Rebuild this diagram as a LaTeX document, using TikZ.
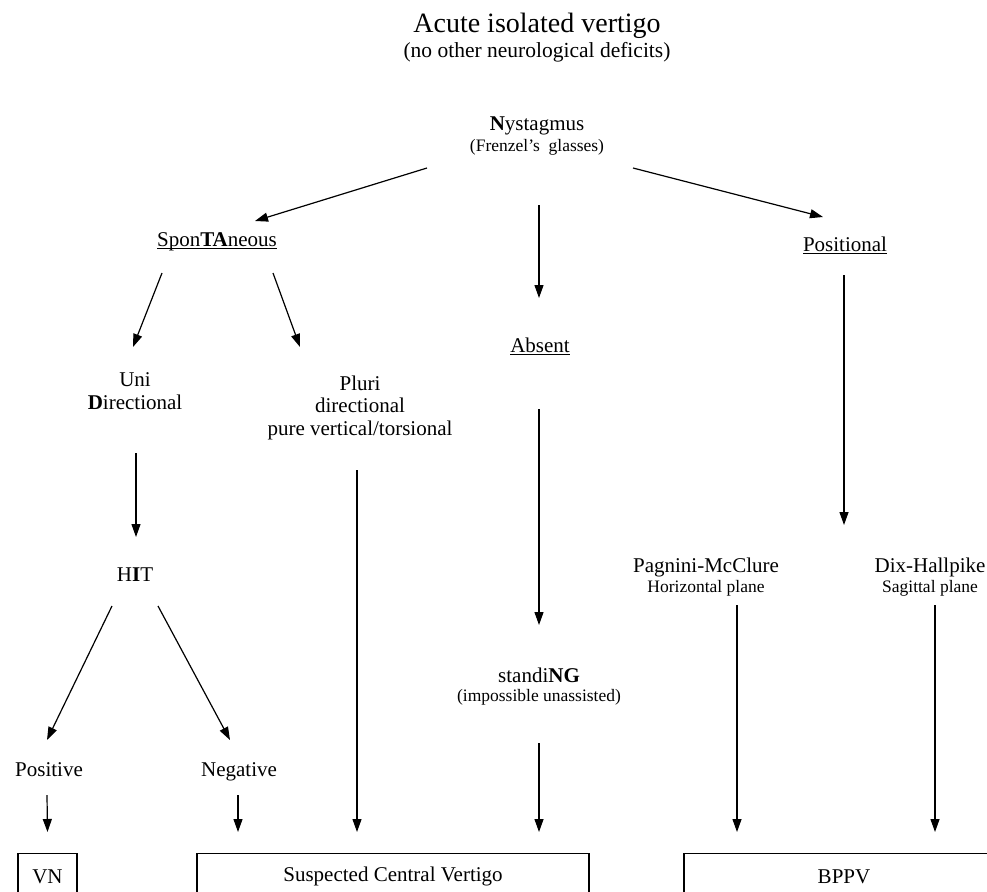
\documentclass[tikz,border=0pt]{standalone}
\usepackage{fontspec}
\setmainfont{Liberation Serif}
\usepackage{tikz}
\usetikzlibrary{positioning, arrows.meta, calc}

\newlength\undlw
\newcommand\undl[1]{\settowidth\undlw{#1}\rlap{\rule[-2.8pt]{\undlw}{0.9pt}}#1}
\newcommand\smalltxt{\fontsize{17.5}{19}\selectfont}

\tikzset{
    txt/.style={inner sep=0pt, font=\fontsize{21}{23}\selectfont},
    stack/.style={txt, align=center},
    hdr/.style={inner sep=0pt, font=\fontsize{28}{30}\selectfont},
    outcome/.style={draw, line width=1.3pt, inner sep=0pt, anchor=north,
        minimum height=46pt, font=\fontsize{21}{23}\selectfont},
    arr/.style={line width=1.2pt, -{Triangle[length=13pt, width=9pt]}},
}

\begin{document}
\begin{tikzpicture}[x=1pt, y=-1pt]
    \useasboundingbox (0,0) rectangle (987,891);

    \node[hdr, anchor=base] (title) at (537,33) {Acute isolated vertigo};
    \node[txt, anchor=base, font=\fontsize{21.5}{23}\selectfont] (sub) at (537,57)
        {(no other neurological deficits)};

    \node[stack, font=\fontsize{21}{21}\selectfont] (nyst) at (537,136.3)
        {\textbf{N}ystagmus\\{\smalltxt (Frenzel’s~ glasses)}};

    \node[txt, anchor=base] (spont) at (217,246) {\undl{Spon\textbf{TA}neous}};
    \node[txt, anchor=base] (absent) at (540,352) {\undl{Absent}};
    \node[txt, anchor=base] (posit) at (845,251) {\undl{Positional}};

    \node[stack] (uni) at (135,391.5) {Uni\\\textbf{D}irectional};
    \node[stack, font=\fontsize{21}{22.5}\selectfont] (pluri) at (360,407.6)
        {Pluri\\directional\\pure vertical/torsional};
    \node[txt, anchor=base] (hit) at (135,581) {H\textbf{I}T};
    \node[txt, anchor=base] (pos) at (49,776) {Positive};
    \node[txt, anchor=base] (neg) at (239,776) {Negative};

    \node[stack, font=\fontsize{21}{19}\selectfont] (standing) at (539,686.2)
        {standi\textbf{NG}\\{\smalltxt (impossible unassisted)}};

    \node[stack, font=\fontsize{21}{20}\selectfont] (pagnini) at (706,576.8)
        {Pagnini-McClure\\{\smalltxt Horizontal plane}};
    \node[stack, font=\fontsize{21}{20}\selectfont] (dix) at (930,576.8)
        {Dix-Hallpike\\{\smalltxt Sagittal plane}};
    \coordinate (tests) at (844,525);

    \node[outcome, minimum width=59pt] (vn) at (47.5,853) {VN};
    \node[outcome, minimum width=392pt] (scv) at (393,853) {Suspected Central Vertigo};
    \node[outcome, minimum width=320pt] (bppv) at (844,853) {BPPV};

    \draw[arr] ($(nyst)+(-110,31.7)$) -- ($(spont.base)+(38,-25)$);
    \draw[arr] ($(nyst)+(2,68.7)$) -- ($(absent.base)+(-1,-54)$);
    \draw[arr] ($(nyst)+(96,31.7)$) -- ($(posit.base)+(-22,-34)$);

    \draw[arr] ($(spont.base)+(-55,27)$) -- ($(uni)+(-2,-44.5)$);
    \draw[arr] ($(spont.base)+(56,27)$) -- ($(pluri)+(-60,-60.6)$);
    \draw[arr] ($(uni)+(1,61.5)$) -- ($(hit.base)+(1,-44)$);
    \draw[arr] ($(hit.base)+(-23,25)$) -- ($(pos.base)+(-2,-36)$);
    \draw[arr] ($(hit.base)+(23,25)$) -- ($(neg.base)+(-9,-36)$);
    \draw[arr] ($(pos.base)+(-2,19)$) -- ($(vn.north)+(0,-21)$);
    \draw[arr] ($(neg.base)+(-1,19)$) -- ($(scv.north)+(-155,-21)$);
    \draw[arr] ($(pluri)+(-3,62.4)$) -- ($(scv.north)+(-36,-21)$);

    \draw[arr] ($(absent.base)+(-1,57)$) -- ($(standing)+(0,-61.2)$);
    \draw[arr] ($(standing)+(0,56.8)$) -- ($(scv.north)+(146,-21)$);

    \draw[arr] ($(posit.base)+(-1,24)$) -- (tests);
    \draw[arr] ($(pagnini)+(31,28.2)$) -- ($(bppv.north)+(-107,-21)$);
    \draw[arr] ($(dix)+(5,28.2)$) -- ($(bppv.north)+(91,-21)$);
\end{tikzpicture}
\end{document}
